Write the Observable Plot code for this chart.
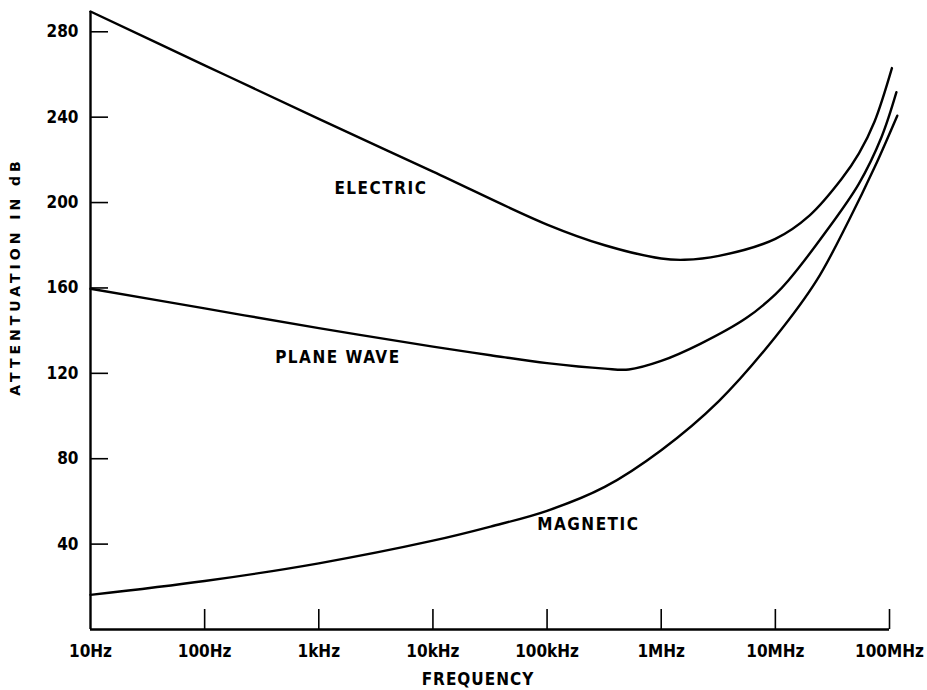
<!DOCTYPE html>
<html>
<head>
<meta charset="utf-8">
<script src="https://cdn.jsdelivr.net/npm/d3@7"></script>
<script src="https://cdn.jsdelivr.net/npm/@observablehq/plot@0.6"></script>
<style>
  html, body { margin: 0; padding: 0; background: #fff; }
</style>
</head>
<body>
<div id="chart"></div>
<script>
// ---- data ----
const electricFreq = [10, 100, 1e3, 1e4, 1e5, 3.2e5, 1e6, 1.6e6, 3.2e6, 1e7, 2e7, 3.8e7, 5.4e7, 7.4e7, 1.05e8];
const electricDb   = [289.5, 264.3, 239.2, 214.5, 189.7, 180, 173.8, 173.2, 175, 183, 194, 211, 223, 238, 263];

const planeFreq = [10, 100, 1e3, 1e4, 3.2e4, 1e5, 3.2e5, 5.2e5, 1e6, 2.2e6, 5.6e6, 1e7, 1.3e7, 2.7e7, 5.4e7, 8.5e7, 1.15e8];
const planeDb   = [159.6, 150.4, 141.2, 132.5, 128.5, 124.8, 122.2, 121.8, 125.8, 133.8, 146, 157, 163.5, 185.5, 208.9, 230.6, 251.7];

const magneticFreq = [10, 100, 1e3, 1e4, 3.2e4, 1e5, 3.2e5, 1e6, 3.2e6, 1e7, 2.3e7, 4.4e7, 7.4e7, 1.17e8];
const magneticDb   = [16.2, 22.7, 31, 41.6, 48.2, 55.6, 66.8, 84, 107, 137, 163.5, 191.6, 216.5, 240.7];

const xTickValues = [10, 100, 1e3, 1e4, 1e5, 1e6, 1e7, 1e8];
const xTickLabels = ["10Hz", "100Hz", "1kHz", "10kHz", "100kHz", "1MHz", "10MHz", "100MHz"];
const yTickValues = [40, 80, 120, 160, 200, 240, 280];

const curveNames = ["ELECTRIC", "PLANE WAVE", "MAGNETIC"];
const labelFreq  = [3.5e3, 1.47e3, 2.3e5];
const labelDb    = [206.6, 127.4, 49.2];

// ---- build tables ----
const toRows = (name, fs, vs) => fs.map((f, i) => ({name, f, db: vs[i]}));
const rows = [
  ...toRows("ELECTRIC", electricFreq, electricDb),
  ...toRows("PLANE WAVE", planeFreq, planeDb),
  ...toRows("MAGNETIC", magneticFreq, magneticDb)
];
const labels = curveNames.map((n, i) => ({n, f: labelFreq[i], db: labelDb[i]}));
const xTicks = xTickValues.map((v, i) => ({v, t: xTickLabels[i]}));

const condensed = '"DejaVu Sans Condensed", "DejaVu Sans", sans-serif';

const chart = Plot.plot({
  width: 927,
  height: 690,
  marginLeft: 90,
  marginRight: 38,
  marginTop: 11,
  marginBottom: 61,
  style: {fontFamily: condensed, background: "#fff", color: "#000"},
  x: {type: "log", domain: [10, 1e8], axis: null},
  y: {domain: [0, 289.5], axis: null},
  marks: [
    // y tick marks (inward)
    Plot.tickY(yTickValues, {y: d => d, stroke: "#000", strokeWidth: 1.6, insetRight: 781}),
    // x tick marks (upward)
    Plot.tickX(xTickValues.slice(1), {x: d => d, stroke: "#000", strokeWidth: 1.6, insetTop: 598}),
    // axis lines
    Plot.ruleX([10], {stroke: "#000", strokeWidth: 2.4}),
    Plot.ruleY([0], {stroke: "#000", strokeWidth: 2.4}),
    // y tick labels
    Plot.text(yTickValues, {y: d => d, frameAnchor: "left", dx: -12, textAnchor: "end", text: d => String(d),
      fontSize: 17, fontWeight: "bold", fill: "#000"}),
    // x tick labels
    Plot.text(xTicks, {x: "v", frameAnchor: "bottom", dy: 27, text: "t",
      fontSize: 17, fontWeight: "bold", fill: "#000"}),
    // curves
    Plot.line(rows, {x: "f", y: "db", z: "name", curve: "catmull-rom", stroke: "#000", strokeWidth: 2.4}),
    // curve labels
    Plot.text(labels, {x: "f", y: "db", text: "n", fontSize: 17, fontWeight: "bold", fill: "#000"}),
    // axis titles
    Plot.text(["FREQUENCY"], {frameAnchor: "bottom", dx: -12, dy: 55, text: d => d, fontSize: 17, fontWeight: "bold", fill: "#000"}),
    Plot.text(["ATTENTUATION IN dB"], {frameAnchor: "left", text: d => d,
      fontSize: 14, fontWeight: "bold", fill: "#000"})
  ]
});
document.getElementById("chart").appendChild(chart);
chart.querySelectorAll("text").forEach(t => {
  const s = t.textContent;
  if (s === "FREQUENCY") t.setAttribute("letter-spacing", "1");
  if (s === "ELECTRIC" || s === "PLANE WAVE" || s === "MAGNETIC") t.setAttribute("letter-spacing", "1.5");
  if (s === "ATTENTUATION IN dB") {
    t.setAttribute("letter-spacing", "4");
    t.setAttribute("font-family", '"DejaVu Sans", sans-serif');
    t.setAttribute("text-anchor", "middle");
    t.removeAttribute("x"); t.removeAttribute("y");
    t.setAttribute("transform", "translate(19,276) rotate(-90)");
  }
});
</script>
</body>
</html>
